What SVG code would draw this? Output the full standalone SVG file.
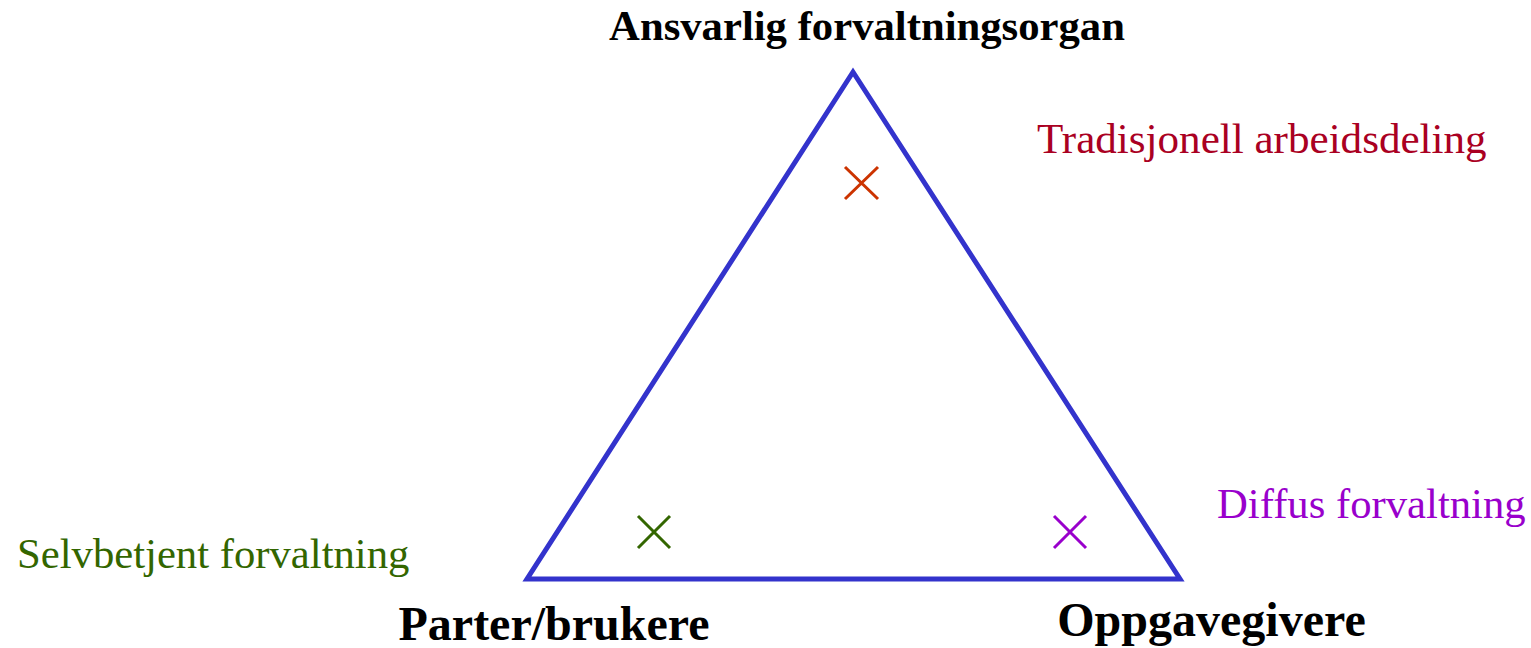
<svg xmlns="http://www.w3.org/2000/svg" width="1531" height="648" viewBox="0 0 1531 648">
<style>
.lbl{font-family:"Liberation Serif","Times New Roman",serif;}
.b{font-weight:bold;fill:#000;}
.x{fill:none;stroke-width:3;}
</style>
<rect width="1531" height="648" fill="#fff"/>
<g id="connectors">
<polygon points="853,72 1180,579 527,579" fill="none" stroke="#3333cc" stroke-width="5" stroke-linejoin="miter"/>
</g>
<g id="node-ansvarlig"><text class="lbl b" x="867" y="40" font-size="42.7" text-anchor="middle">Ansvarlig forvaltningsorgan</text></g>
<g id="node-parter"><text class="lbl b" x="554" y="640" font-size="48" text-anchor="middle">Parter/brukere</text></g>
<g id="node-oppgave"><text class="lbl b" x="1211.5" y="636" font-size="48" text-anchor="middle">Oppgavegivere</text></g>
<g id="node-tradisjonell">
<path class="x" stroke="#cc3300" d="M845,167 L878,199 M878,167 L845,199"/>
<text class="lbl" x="1037" y="153" font-size="43.1" fill="#aa0022">Tradisjonell arbeidsdeling</text>
</g>
<g id="node-selvbetjent">
<path class="x" stroke="#336600" d="M638,516 L670,548 M670,516 L638,548"/>
<text class="lbl" x="17" y="568" font-size="42.7" fill="#336600">Selvbetjent forvaltning</text>
</g>
<g id="node-diffus">
<path class="x" stroke="#9900cc" d="M1054,516 L1086,548 M1086,516 L1054,548"/>
<text class="lbl" x="1217" y="518" font-size="42.7" fill="#9900cc">Diffus forvaltning</text>
</g>
</svg>
